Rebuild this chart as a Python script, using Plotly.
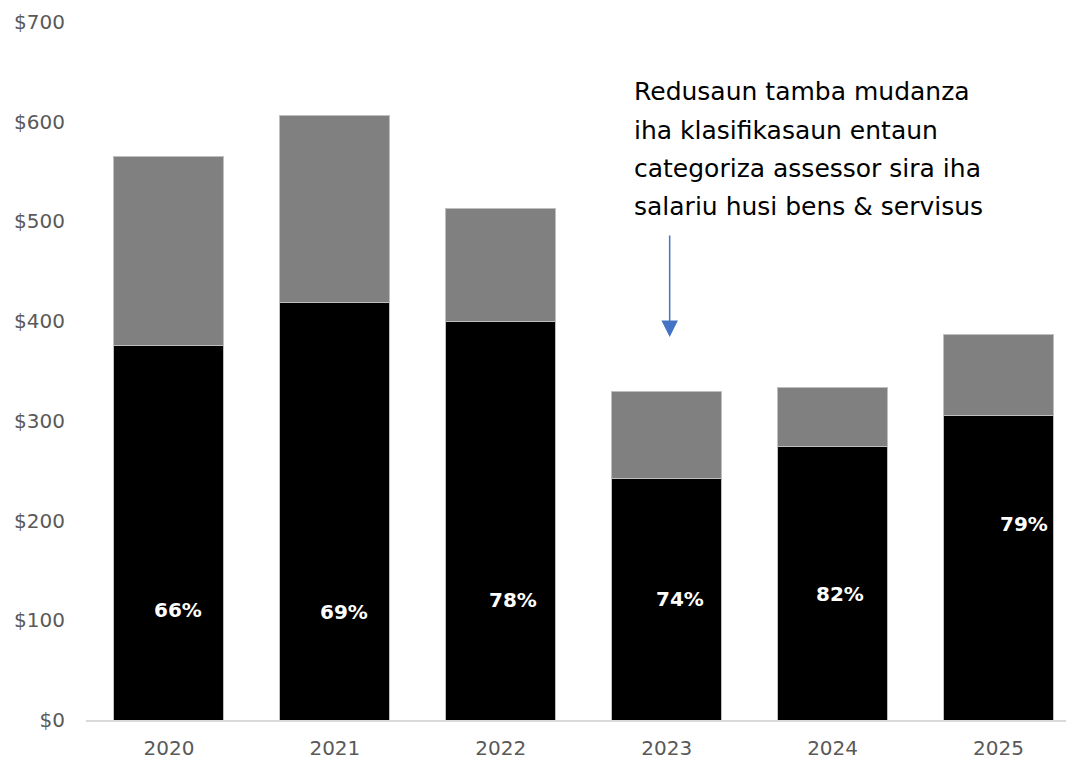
import plotly.graph_objects as go

# ── data ─────────────────────────────────────────────────────────
years = ["2020", "2021", "2022", "2023", "2024", "2025"]
base_vals = [376, 419, 400, 242, 274, 305]   # black segment
top_vals = [189, 187, 113, 87, 59, 82]       # gray segment
share_labels = ["66%", "69%", "78%", "74%", "82%", "79%"]
y_ticks = [0, 100, 200, 300, 400, 500, 600, 700]
note_lines = [
    "Redusaun tamba mudanza",
    "iha klasifikasaun entaun",
    "categoriza assessor sira iha",
    "salariu husi bens & servisus",
]

# label placement (value units / pixel nudges), kept apart from the data
label_y = [110, 108, 120, 121, 126, 197]
label_dx = [9, 9, 12, 13, 7, 25]

FONT = "DejaVu Sans"
TICK_COLOR = "#595959"

fig = go.Figure()
fig.add_trace(
    go.Bar(
        x=years,
        y=base_vals,
        marker=dict(color="#000000", line=dict(color="#bfbfbf", width=1)),
        hoverinfo="skip",
    )
)
fig.add_trace(
    go.Bar(
        x=years,
        y=top_vals,
        marker=dict(color="#808080", line=dict(color="#bfbfbf", width=1)),
        hoverinfo="skip",
    )
)

# percentage labels inside the black bars (x given as category index)
for i, (txt, ly, dx) in enumerate(zip(share_labels, label_y, label_dx)):
    fig.add_annotation(
        x=i,
        y=ly,
        text=f"<b>{txt}</b>",
        showarrow=False,
        xshift=dx,
        font=dict(family=FONT, size=20, color="white"),
    )

# call-out text, one annotation per line for the wide line spacing
for i, line in enumerate(note_lines):
    fig.add_annotation(
        x=2.79,
        xanchor="left",
        y=630 - i * 38.5,
        text=line,
        showarrow=False,
        font=dict(family=FONT, size=25, color="#000000"),
    )

# blue arrow pointing down at 2023
fig.add_annotation(
    x=3.018,
    y=384,
    ax=0,
    ay=-103,
    text="",
    showarrow=True,
    arrowhead=2,
    arrowsize=2.2,
    arrowwidth=1.5,
    arrowcolor="#4472c4",
)

fig.update_layout(
    barmode="stack",
    bargap=0.337,
    width=1066,
    height=752,
    margin=dict(l=78, r=0, t=14, b=38),
    plot_bgcolor="white",
    paper_bgcolor="white",
    showlegend=False,
    font=dict(family=FONT, size=20, color=TICK_COLOR),
)
fig.update_xaxes(
    type="category",
    range=[-0.5, 5.455],
    showline=True,
    linecolor="#d9d9d9",
    linewidth=2,
    showgrid=False,
    ticks="",
    ticklabelstandoff=9,
)
fig.update_yaxes(
    range=[0, 700],
    tickvals=y_ticks,
    ticktext=[f"${v}" for v in y_ticks],
    showgrid=False,
    zeroline=False,
    showline=False,
    ticks="",
    ticklabelstandoff=20,
)

fig.write_html("out.html")
